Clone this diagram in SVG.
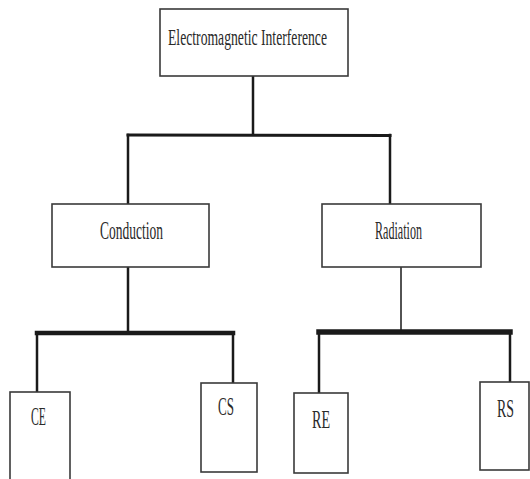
<svg xmlns="http://www.w3.org/2000/svg" width="530" height="479" viewBox="0 0 530 479">
<style>
.box{fill:#fff;stroke:#3a3a3a;stroke-width:1.6}
.lbl{font-family:"Liberation Serif","Times New Roman",serif;font-size:26px;fill:#2a2a2a;text-anchor:middle}
.c{stroke:#1a1a1a;fill:none;stroke-linecap:square}
</style>
<rect width="530" height="479" fill="#fff"/>
<g id="connectors">
<line class="c" x1="253" y1="76" x2="253" y2="134" stroke-width="2.5"/>
<line class="c" x1="128" y1="135" x2="390" y2="135.5" stroke-width="3" stroke="#2a2a2a"/>
<line class="c" x1="128" y1="135" x2="128" y2="203" stroke-width="2.5"/>
<line class="c" x1="390" y1="135" x2="390" y2="203" stroke-width="2.5"/>
<line class="c" x1="128" y1="267" x2="128" y2="331" stroke-width="2.5"/>
<line class="c" x1="401" y1="267" x2="401" y2="330" stroke-width="1.5"/>
<line class="c" x1="37" y1="333" x2="233" y2="333" stroke-width="4.5"/>
<line class="c" x1="37" y1="333" x2="37" y2="391" stroke-width="2.5"/>
<line class="c" x1="233" y1="333" x2="233" y2="382" stroke-width="2.5"/>
<line class="c" x1="319" y1="332" x2="510" y2="332" stroke-width="5.5" stroke="#000"/>
<line class="c" x1="319" y1="332" x2="319" y2="392" stroke-width="2.5"/>
<line class="c" x1="510" y1="332" x2="510" y2="381" stroke-width="2.5"/>
</g>
<g id="emi">
<rect class="box" x="160" y="9" width="188" height="67"/>
<text class="lbl" x="247.5" y="45" style="font-size:23px" textLength="159" lengthAdjust="spacingAndGlyphs">Electromagnetic Interference</text>
</g>
<g id="conduction">
<rect class="box" x="52" y="204" width="157" height="63"/>
<text class="lbl" x="131.5" y="239" textLength="63" lengthAdjust="spacingAndGlyphs">Conduction</text>
</g>
<g id="radiation">
<rect class="box" x="322" y="204" width="159" height="63"/>
<text class="lbl" x="398.5" y="239" textLength="47" lengthAdjust="spacingAndGlyphs">Radiation</text>
</g>
<g id="ce">
<rect class="box" x="10" y="392" width="60" height="95"/>
<text class="lbl" x="38.5" y="425" textLength="15" lengthAdjust="spacingAndGlyphs">CE</text>
</g>
<g id="cs">
<rect class="box" x="201" y="383" width="56" height="89"/>
<text class="lbl" x="226" y="415" textLength="16" lengthAdjust="spacingAndGlyphs">CS</text>
</g>
<g id="re">
<rect class="box" x="294" y="393" width="54" height="80"/>
<text class="lbl" x="321" y="428" textLength="18" lengthAdjust="spacingAndGlyphs">RE</text>
</g>
<g id="rs">
<rect class="box" x="480" y="382" width="49" height="88"/>
<text class="lbl" x="505.5" y="417" textLength="17" lengthAdjust="spacingAndGlyphs">RS</text>
</g>
</svg>
